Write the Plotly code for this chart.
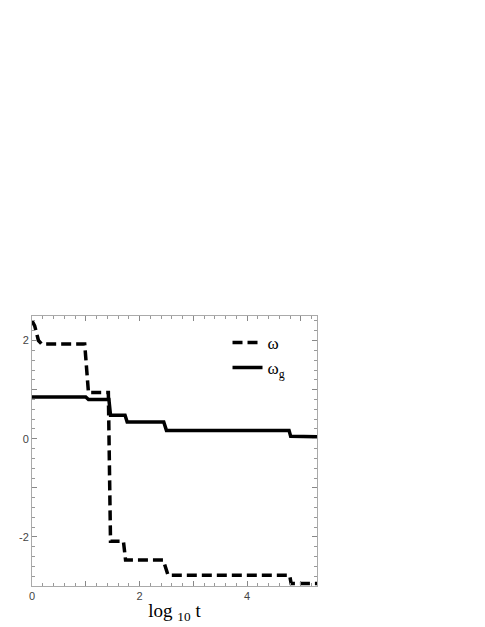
import plotly.graph_objects as go

# omega (dashed) - step curve
omega_x = [0, 0.05, 0.12, 0.18, 0.98, 1.05, 1.42, 1.46, 1.70, 1.74, 2.44, 2.53, 4.79, 4.82, 5.3]
omega_y = [2.4, 2.3, 2.0, 1.93, 1.93, 0.94, 0.94, -2.09, -2.09, -2.47, -2.47, -2.78, -2.78, -2.95, -2.95]

# omega_g (solid)
omega_g_x = [0, 1.0, 1.05, 1.43, 1.46, 1.73, 1.77, 2.45, 2.5, 4.78, 4.81, 5.3]
omega_g_y = [0.85, 0.85, 0.80, 0.80, 0.48, 0.48, 0.34, 0.34, 0.17, 0.17, 0.05, 0.04]

x_ticks = [0, 1, 2, 3, 4, 5]
x_labels = ["0", "", "2", "", "4", ""]
y_ticks = [-3, -2, -1, 0, 1, 2]
y_labels = ["", "-2", "", "0", "", "2"]

fig = go.Figure()
fig.add_trace(go.Scatter(
    x=omega_x, y=omega_y, mode="lines", name="ω",
    line=dict(color="black", width=3.5, dash="10px,5px"),
))
fig.add_trace(go.Scatter(
    x=omega_g_x, y=omega_g_y, mode="lines", name="ω<sub>g</sub>",
    line=dict(color="black", width=3.5),
))

axis_common = dict(
    showgrid=False, zeroline=False, showline=True, mirror="ticks",
    linecolor="#aaaaaa", linewidth=1, automargin=False,
    ticks="inside", ticklen=5, tickcolor="#888888", tickwidth=1,
    tickfont=dict(family="Liberation Sans", size=11, color="#444444"),
)

fig.update_xaxes(
    range=[0, 5.3], tickvals=x_ticks, ticktext=x_labels,
    minor=dict(ticks="inside", dtick=0.2, ticklen=3, tickcolor="#999999"),
    title=dict(text="log <sub>10</sub> t", font=dict(family="Liberation Serif", size=19, color="black"),
               standoff=2),
    **axis_common,
)
fig.update_yaxes(
    range=[-3, 2.5], tickvals=y_ticks, ticktext=y_labels,
    minor=dict(ticks="inside", dtick=0.2, ticklen=3, tickcolor="#999999"),
    **axis_common,
)

fig.update_layout(
    width=485, height=627,
    margin=dict(l=24, r=176, t=308, b=49),
    paper_bgcolor="white", plot_bgcolor="white",
    showlegend=True,
    legend=dict(
        x=0.686, y=0.967, xanchor="left", yanchor="top",
        bgcolor="rgba(0,0,0,0)", itemwidth=30,
        font=dict(family="Liberation Serif", size=17, color="black"),
    ),
)

fig.write_html("out.html")
